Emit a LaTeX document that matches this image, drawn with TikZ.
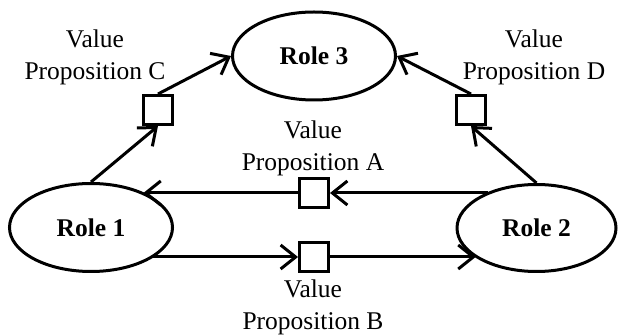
\documentclass[tikz,border=0pt]{standalone}
\usepackage{fontspec}
\setmainfont{Liberation Serif}
\usetikzlibrary{shapes.geometric,arrows.meta}
\begin{document}
\begin{tikzpicture}[x=1pt,y=-1pt,
  role/.style={ellipse, draw, line width=3pt, inner sep=0pt, minimum width=163pt, minimum height=88pt, font=\fontsize{25.5}{32}\selectfont\bfseries},
  vp/.style={rectangle, draw, line width=3pt, minimum size=29pt, inner sep=0pt},
  lbl/.style={align=center, inner sep=0pt, font=\fontsize{25.5}{32}\selectfont},
  flow/.style={line width=3pt, -{Straight Barb[length=15pt,width=24pt]}}]
\useasboundingbox[fill=white] (0,0) rectangle (618,336);
% roles
\node[role] (r3) at (314,56) {Role 3};
\node[role] (r1) at (91,227.5) {Role 1};
\node[role, minimum width=159pt, minimum height=87pt] (r2) at (536.5,228) {Role 2};
% value proposition boxes
\node[vp] (bc) at (158,110) {};
\node[vp] (bd) at (471,110) {};
\node[vp] (ba) at (314,193) {};
\node[vp] (bb) at (314,257) {};
% labels
\node[lbl] (lc) at (95,57) {Value\\Proposition C};
\node[lbl] (ld) at (534,57) {Value\\Proposition D};
\node[lbl] (la) at (313,148) {Value\\Proposition A};
\node[lbl] (lb) at (313,307.5) {Value\\Proposition B};
% connectors
\draw[flow] (r1.north) -- (bc.south);
\draw[flow] (bc.north) -- (r3.west);
\draw[flow] (r2.north) -- (bd.south);
\draw[flow] (bd.north) -- (r3.east);
\draw[flow] (r2.143 |- ba.east) -- (ba.east);
\draw[flow] (ba.west) -- (ba.west -| r1.34);
\draw[flow] (r1.-26 |- bb.west) -- (bb.west);
\draw[flow] (bb.east) -- (bb.east -| r2.-154);
\end{tikzpicture}
\end{document}
